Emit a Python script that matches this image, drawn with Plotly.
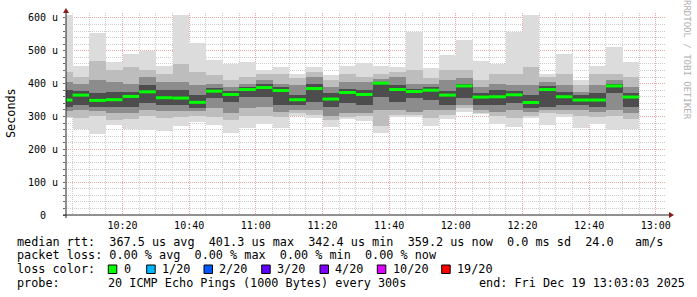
import pandas as pd
import plotly.graph_objects as go

# ---- data ----
bin_end = pd.date_range("2025-12-19 10:05", "2025-12-19 12:55", freq="5min")

median = [350, 365, 349, 351, 361, 375, 357, 356, 343, 377,
          367, 382, 388, 379, 351, 385, 353, 373, 367, 401.3,
          382, 376, 380, 365, 393, 359, 360, 366, 342.4, 382,
          360, 350, 350, 393, 359.2]
p_max = [610, 454, 555, 466, 490, 499, 454, 609, 525, 472,
         460, 467, 442, 452, 430, 450, 427, 455, 463, 455,
         450, 556, 449, 487, 533, 469, 460, 556, 609, 430,
         490, 412, 454, 513, 466]
p_min = [296, 262, 248, 274, 262, 259, 256, 272, 284, 274,
         251, 266, 276, 266, 302, 296, 268, 293, 287, 249,
         297, 297, 272, 292, 315, 308, 277, 268, 294, 274,
         299, 266, 277, 259, 262]
p90 = [435, 420, 470, 440, 452, 440, 430, 460, 435, 425,
       410, 420, 430, 430, 418, 435, 410, 430, 420, 430,
       435, 440, 418, 440, 440, 410, 430, 430, 450, 420,
       430, 395, 430, 430, 420]
p10 = [298, 296, 300, 290, 293, 300, 296, 298, 300, 298,
       290, 300, 300, 298, 312, 305, 290, 298, 300, 270,
       305, 305, 295, 305, 325, 310, 300, 295, 300, 310,
       308, 300, 298, 300, 292]
p75 = [405, 400, 410, 405, 398, 420, 405, 405, 395, 398,
       390, 400, 412, 400, 395, 420, 390, 405, 405, 415,
       420, 400, 398, 410, 418, 390, 400, 395, 395, 405,
       395, 375, 395, 410, 390]
p25 = [318, 320, 318, 312, 312, 320, 318, 318, 318, 325,
       310, 325, 330, 315, 320, 320, 300, 310, 310, 320,
       320, 315, 320, 320, 335, 320, 315, 320, 315, 320,
       320, 320, 315, 320, 310]
p60 = [380, 378, 372, 375, 373, 395, 380, 380, 365, 388,
       378, 390, 398, 390, 365, 400, 370, 385, 380, 405,
       395, 385, 390, 378, 400, 370, 380, 378, 365, 392,
       375, 365, 370, 400, 372]
p40 = [328, 335, 328, 330, 330, 340, 335, 335, 327, 355,
       345, 358, 360, 335, 335, 345, 330, 340, 335, 360,
       345, 355, 350, 335, 355, 335, 335, 340, 325, 330,
       335, 335, 330, 370, 330]

y_ticks = [0, 100, 200, 300, 400, 500, 600]
y_tick_text = ["0  ", "100 u", "200 u", "300 u", "400 u", "500 u", "600 u"]

loss_labels = ["0", "1/20", "2/20", "3/20", "4/20", "10/20", "19/20"]
loss_colors = ["#00ff00", "#00b8ff", "#0059ff", "#5e00ff", "#7e00ff", "#dd00ff", "#ff0000"]

legend_line1 = "median rtt:  367.5 us avg  401.3 us max  342.4 us min  359.2 us now  0.0 ms sd  24.0   am/s"
legend_line2 = "packet loss: 0.00 % avg  0.00 % max  0.00 % min  0.00 % now"
probe_text = "20 ICMP Echo Pings (1000 Bytes) every 300s"
end_text = "end: Fri Dec 19 13:03:03 2025"

# ---- geometry ----
W, H = 697, 297
L, R, T, B = 66, 666, 13, 215
MONO = "DejaVu Sans Mono"


def px(x):
    return (x - L) / (R - L)


def py(y):
    return (B - y) / (B - T)


def nb(s):
    return s.replace(" ", "\u00a0")


half = pd.Timedelta(minutes=2.5)
centers = [t - half for t in bin_end]
width_ms = 5 * 60 * 1000

fig = go.Figure()
bands = [(p_max, p_min, "#dcdcdc"), (p90, p10, "#bdbdbd"),
         (p75, p25, "#8c8c8c"), (p60, p40, "#4d4d4d")]
for hi, lo, col in bands:
    fig.add_trace(go.Bar(
        x=centers, y=[h - l for h, l in zip(hi, lo)], base=lo,
        width=width_ms, marker=dict(color=col, line=dict(width=0)),
        hoverinfo="skip", showlegend=False))

mx, my = [], []
for t, m in zip(bin_end, median):
    mx += [t - 2 * half, t, None]
    my += [m, m, None]
fig.add_trace(go.Scatter(x=mx, y=my, mode="lines",
                         line=dict(color="#00ff00", width=3),
                         hoverinfo="skip", showlegend=False))

fig.update_layout(
    width=W, height=H, margin=dict(l=L, r=W - R, t=T, b=H - B),
    paper_bgcolor="white", plot_bgcolor="white", barmode="overlay", bargap=0,
    font=dict(family=MONO, size=10, color="#000"),
    showlegend=False,
)
fig.update_xaxes(
    type="date", range=["2025-12-19 10:03:03", "2025-12-19 13:03:03"],
    tickformat="%H:%M", dtick=20 * 60 * 1000, tick0="2025-12-19 10:00",
    showgrid=True, gridcolor="#eaa8a8", griddash="1px,1px", gridwidth=1,
    minor=dict(dtick=5 * 60 * 1000, showgrid=True, gridcolor="#cccccc",
               griddash="1px,1px", ticks=""),
    showline=False, zeroline=False, ticks="", layer="above traces",
    tickfont=dict(family=MONO, size=10, color="#000"), ticklabelstandoff=3,
)
fig.update_yaxes(
    range=[0, 615], tickvals=y_ticks, ticktext=[nb(t) for t in y_tick_text],
    showgrid=True, gridcolor="#eaa8a8", griddash="1px,1px",
    minor=dict(dtick=20, showgrid=True, gridcolor="#cccccc",
               griddash="1px,1px", ticks="outside", ticklen=2, tickcolor="#666"),
    ticks="outside", ticklen=2, tickcolor="#666",
    showline=False, zeroline=False, layer="above traces",
    tickfont=dict(family=MONO, size=10, color="#000"), ticklabelstandoff=3,
)

shapes = []
# axis lines
shapes.append(dict(type="line", xref="paper", yref="paper", x0=px(63), x1=px(670),
                   y0=py(215), y1=py(215), line=dict(color="#222", width=1), layer="above"))
shapes.append(dict(type="line", xref="paper", yref="paper", x0=px(66), x1=px(66),
                   y0=py(218), y1=py(12), line=dict(color="#222", width=1), layer="above"))
# arrow heads
shapes.append(dict(type="path", xref="paper", yref="paper", xsizemode="pixel", ysizemode="pixel",
                   xanchor=px(66), yanchor=py(13), path="M -3 0 L 3 0 L 0 5 Z",
                   fillcolor="#8b1a1a", line=dict(width=0), layer="above"))
shapes.append(dict(type="path", xref="paper", yref="paper", xsizemode="pixel", ysizemode="pixel",
                   xanchor=px(669), yanchor=py(215), path="M 0 -3 L 0 3 L 5 0 Z",
                   fillcolor="#8b1a1a", line=dict(width=0), layer="above"))

ann = []
LEG = 11.8


def text(x, y, s, size=LEG, color="#000", **kw):
    ann.append(dict(xref="paper", yref="paper", x=px(x), y=py(y), text=nb(s),
                    showarrow=False, xanchor="left", yanchor="middle", borderpad=0,
                    font=dict(family=MONO, size=size, color=color), **kw))


text(16, 241.7, legend_line1)
text(16, 255.3, legend_line2)
text(16, 269.3, "loss color:")
box_x = [108.3, 146.7, 204, 261.7, 320, 377.3, 441.7]
for bx, lab, col in zip(box_x, loss_labels, loss_colors):
    shapes.append(dict(type="rect", xref="paper", yref="paper", x0=px(bx), x1=px(bx + 8.5),
                       y0=py(273.5), y1=py(265), fillcolor=col, line=dict(color="#000", width=1)))
    text(bx + 14.3, 269.3, lab)
text(16, 283.3, "probe:")
text(107.3, 283.3, probe_text)
text(478.3, 283.3, end_text)

ann.append(dict(xref="paper", yref="paper", x=px(11), y=py(113), text="Seconds",
                showarrow=False, textangle=-90, xanchor="center", yanchor="middle",
                font=dict(family=MONO, size=LEG, color="#000")))
ann.append(dict(xref="paper", yref="paper", x=px(687), y=py(60), text=nb("RRDTOOL / TOBI OETIKER"),
                showarrow=False, textangle=90, xanchor="center", yanchor="middle",
                font=dict(family=MONO, size=9, color="#b0b0b0")))

fig.update_layout(shapes=shapes, annotations=ann)
fig.write_html("out.html")
